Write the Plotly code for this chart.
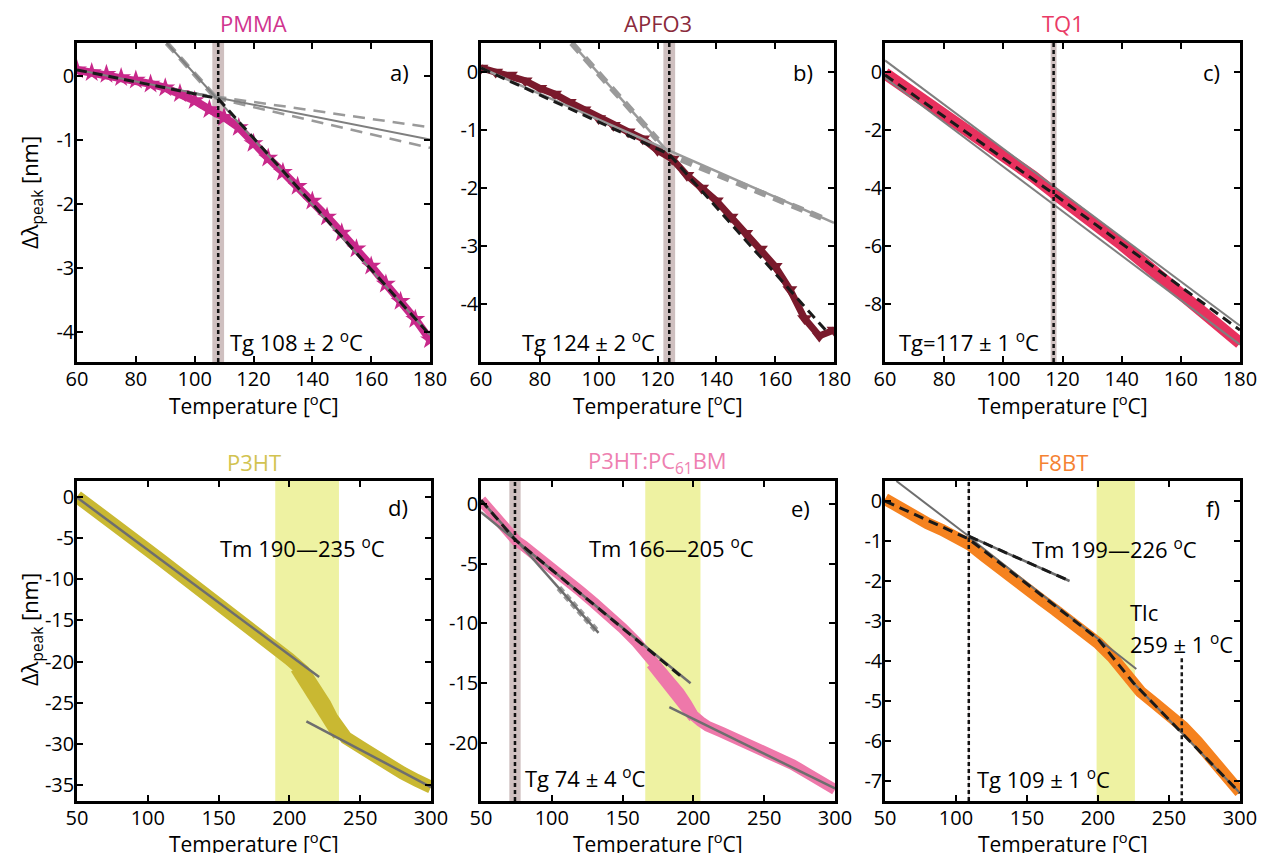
import plotly.graph_objects as go

# ---------------- data ----------------
# a) PMMA
pmma_T = [60, 65, 70, 75, 80, 85, 90, 95, 100, 105, 110, 115, 120, 125, 130, 135, 140, 145, 150, 155, 160, 165, 170, 175, 180]
pmma_d = [0.10, 0.06, 0.03, -0.02, -0.06, -0.12, -0.18, -0.27, -0.38, -0.52, -0.64, -0.80, -1.05, -1.28, -1.50, -1.72, -1.95, -2.20, -2.45, -2.70, -2.97, -3.25, -3.52, -3.80, -4.12]
pmma_fit_T = [60, 108, 180]
pmma_fit_d = [0.10, -0.35, -4.05]
pmma_low_T = [60, 180]
pmma_low_d = [0.10, -0.99]
pmma_ci_T = [100, 180]
pmma_ci_up = [-0.27, -0.80]
pmma_ci_lo = [-0.27, -1.12]
pmma_high_T = [90.5, 180]
pmma_high_d = [0.52, -4.05]
pmma_hci_T = [90.5, 108]
pmma_hci_d = [0.52, -0.38]

# b) APFO3
apfo_T = [60, 65, 70, 75, 80, 85, 90, 95, 100, 105, 110, 115, 120, 125, 130, 135, 140, 145, 150, 155, 160, 165, 170, 175, 180]
apfo_d = [0.07, 0.00, -0.05, -0.15, -0.28, -0.38, -0.52, -0.65, -0.80, -0.92, -1.03, -1.15, -1.35, -1.50, -1.78, -2.00, -2.22, -2.50, -2.78, -3.05, -3.35, -3.75, -4.25, -4.55, -4.45]
apfo_fit_T = [60, 124, 178]
apfo_fit_d = [0.07, -1.42, -4.50]
apfo_low_T = [60, 180]
apfo_low_d = [0.07, -2.60]
apfo_lci_T = [128, 178]
apfo_lci_d = [-1.51, -2.56]
apfo_high_T = [90.8, 124]
apfo_high_d = [0.50, -1.40]
apfo_hci_T = [90.8, 120]
apfo_hci_d = [0.50, -1.17]

# c) TQ1
tq1_T = [60, 70, 80, 90, 100, 110, 120, 130, 140, 150, 160, 170, 180]
tq1_d = [-0.05, -0.75, -1.45, -2.15, -2.85, -3.60, -4.40, -5.15, -5.95, -6.80, -7.60, -8.50, -9.35]
tq1_fit_T = [60, 117, 180]
tq1_fit_d = [-0.10, -4.20, -8.90]
tq1_g1_T = [60, 180]
tq1_g1_d = [0.40, -8.75]
tq1_g2_T = [60, 180]
tq1_g2_d = [-0.20, -9.40]

# d) P3HT
p3ht_T = [50, 60, 70, 80, 90, 100, 110, 120, 130, 140, 150, 160, 170, 180, 190, 200, 210, 215, 220, 225, 230, 235, 240, 250, 260, 270, 280, 290, 300]
p3ht_d = [0.1, -1.3, -2.6, -3.9, -5.1, -6.4, -7.7, -9.0, -10.3, -11.6, -12.9, -14.1, -15.4, -16.8, -18.2, -19.7, -21.2, -22.4, -23.6, -25.2, -26.9, -28.4, -29.3, -30.4, -31.6, -32.6, -33.6, -34.5, -35.3]
p3ht_melt_T = [205, 210, 215, 220, 225, 230, 235]
p3ht_melt_d = [-20.8, -22.2, -23.6, -25.0, -26.6, -28.0, -29.0]
p3ht_g1_T = [50, 221]
p3ht_g1_d = [0.0, -21.9]
p3ht_g2_T = [212, 300]
p3ht_g2_d = [-27.3, -35.3]

# e) P3HT:PC61BM
blend_T = [50, 55, 60, 65, 70, 75, 80, 90, 100, 110, 120, 130, 140, 150, 160, 170, 180, 185, 190, 195, 200, 205, 210, 220, 230, 240, 250, 260, 270, 280, 290, 300]
blend_d = [0.3, -0.4, -1.1, -1.8, -2.5, -3.1, -3.5, -4.4, -5.3, -6.3, -7.3, -8.3, -9.3, -10.4, -11.6, -12.9, -14.3, -15.0, -15.8, -16.7, -17.7, -18.2, -18.6, -19.1, -19.6, -20.1, -20.6, -21.2, -21.8, -22.5, -23.2, -23.9]
blend_melt_T = [170, 180, 185, 190, 195, 200]
blend_melt_d = [-13.4, -14.9, -15.7, -16.5, -17.2, -17.9]
blend_fit_T = [50, 74, 193]
blend_fit_d = [0.3, -3.0, -14.6]
blend_g1_T = [50, 198]
blend_g1_d = [-0.7, -15.0]
blend_steep_T = [50, 133]
blend_steep_d = [0.3, -10.8]
blend_sci_T = [105, 133]
blend_sci_d = [-7.05, -10.8]
blend_g2_T = [183, 300]
blend_g2_d = [-17.0, -23.8]

# f) F8BT
f8bt_T = [50, 60, 70, 80, 90, 100, 110, 120, 130, 140, 150, 160, 170, 180, 190, 200, 210, 215, 220, 225, 230, 240, 250, 260, 270, 280, 290, 300]
f8bt_d = [0.05, -0.18, -0.36, -0.56, -0.72, -0.89, -1.10, -1.38, -1.63, -1.92, -2.18, -2.47, -2.73, -3.00, -3.26, -3.55, -3.90, -4.12, -4.35, -4.56, -4.77, -5.06, -5.33, -5.65, -6.02, -6.43, -6.88, -7.28]
f8bt_fit_T = [50, 109, 200, 225, 300]
f8bt_fit_d = [0.0, -0.95, -3.45, -4.55, -7.30]
f8bt_ga_T = [58, 109]
f8bt_ga_d = [0.50, -0.88]
f8bt_gb_T = [109, 180]
f8bt_gb_d = [-0.88, -2.00]
f8bt_gc_T = [109, 227]
f8bt_gc_d = [-0.90, -4.20]
f8bt_gd_T = [225, 300]
f8bt_gd_d = [-4.55, -7.30]
f8bt_tlc_T = [259, 259]
f8bt_tlc_d = [-3.93, -7.5]

# transition temperatures
tg_lines = {1: 108, 2: 124, 3: 117, 5: 74, 6: 109}
tg_bands = {1: (106, 110), 2: (122, 126), 3: (116, 118), 5: (70, 78), 6: (108.4, 109.6)}
tm_bands = {4: (190, 235), 5: (166, 205), 6: (199, 226)}

titles = ["PMMA", "APFO3", "TQ1", "P3HT", "P3HT:PC<sub>61</sub>BM", "F8BT"]
letters = ["a)", "b)", "c)", "d)", "e)", "f)"]
xt_top = [60, 80, 100, 120, 140, 160, 180]
xt_bot = [50, 100, 150, 200, 250, 300]
yt = {
    1: [0, -1, -2, -3, -4],
    2: [0, -1, -2, -3, -4],
    3: [0, -2, -4, -6, -8],
    4: [0, -5, -10, -15, -20, -25, -30, -35],
    5: [0, -5, -10, -15, -20],
    6: [0, -1, -2, -3, -4, -5, -6, -7],
}

# ---------------- styling / layout ----------------
W, H = 1262, 853
FONT = "Open Sans"
C = {1: "#C8288A", 2: "#7A1A2C", 3: "#E8315E", 4: "#C9B832", 5: "#EE78AA", 6: "#F5821F"}
TITLE_C = {1: "#D0358F", 2: "#8A2A3C", 3: "#EA3A66", 4: "#D2C350", 5: "#EE80B0", 6: "#F58232"}
GRAY = "#7F7F7F"
LGRAY = "#9A9A9A"
BAND = "#CFC0C0"
YEL = "#EEF2A2"

xdom_px = {1: (77, 430), 2: (481, 834), 3: (885, 1240), 4: (77, 431), 5: (481, 835), 6: (885, 1240)}
ydom_px = {1: (43, 362), 2: (43, 362), 3: (43, 362), 4: (481, 801), 5: (481, 801), 6: (481, 801)}
xr = {1: [60, 180], 2: [60, 180], 3: [60, 180], 4: [50, 300], 5: [50, 300], 6: [50, 300]}
yr = {1: [-4.47, 0.52], 2: [-5.0, 0.5], 3: [-10.0, 1.0], 4: [-37.0, 2.0], 5: [-24.85, 1.9], 6: [-7.5, 0.5]}


def px(x):
    return x / W


def py(y):
    return 1 - y / H


fig = go.Figure()


def ax(i):
    return ("x" if i == 1 else f"x{i}"), ("y" if i == 1 else f"y{i}")


def line(i, xs, ys, color, width, dash="solid"):
    xa, ya = ax(i)
    fig.add_trace(go.Scatter(x=xs, y=ys, xaxis=xa, yaxis=ya, mode="lines",
                             line=dict(color=color, width=width, dash=dash),
                             showlegend=False, hoverinfo="skip"))


def data(i, xs, ys, width, symbol=None, size=0):
    xa, ya = ax(i)
    if symbol:
        fig.add_trace(go.Scatter(x=xs, y=ys, xaxis=xa, yaxis=ya, mode="lines+markers",
                                 line=dict(color=C[i], width=width),
                                 marker=dict(symbol=symbol, size=size, color=C[i], line=dict(width=0)),
                                 showlegend=False))
    else:
        fig.add_trace(go.Scatter(x=xs, y=ys, xaxis=xa, yaxis=ya, mode="lines",
                                 line=dict(color=C[i], width=width),
                                 showlegend=False))


BDASH = "10px,6px"
VDASH = "4px,3px"
CIDASH = "12px,8px"
DK = "#1A1A1A"

# a) PMMA
data(1, pmma_T, pmma_d, 8, "star", 15)
line(1, pmma_ci_T, pmma_ci_up, LGRAY, 2.5, CIDASH)
line(1, pmma_ci_T, pmma_ci_lo, LGRAY, 2.5, CIDASH)
line(1, pmma_low_T, pmma_low_d, GRAY, 2)
line(1, pmma_hci_T, pmma_hci_d, LGRAY, 5, CIDASH)
line(1, pmma_high_T, pmma_high_d, GRAY, 2)
line(1, pmma_fit_T, pmma_fit_d, DK, 3, BDASH)

# b) APFO3
data(2, apfo_T, apfo_d, 7, "triangle-down", 13)
line(2, apfo_lci_T, apfo_lci_d, LGRAY, 6, CIDASH)
line(2, apfo_low_T, apfo_low_d, LGRAY, 2.5)
line(2, apfo_hci_T, apfo_hci_d, LGRAY, 6, CIDASH)
line(2, apfo_high_T, apfo_high_d, LGRAY, 2.5)
line(2, apfo_fit_T, apfo_fit_d, DK, 3, BDASH)

# c) TQ1
data(3, tq1_T, tq1_d, 12)
line(3, tq1_g1_T, tq1_g1_d, GRAY, 2)
line(3, tq1_g2_T, tq1_g2_d, GRAY, 2)
line(3, tq1_fit_T, tq1_fit_d, DK, 3, BDASH)

# d) P3HT
data(4, p3ht_T, p3ht_d, 13)
data(4, p3ht_melt_T, p3ht_melt_d, 13)
line(4, p3ht_g1_T, p3ht_g1_d, "#6E6E6E", 2.5)
line(4, p3ht_g2_T, p3ht_g2_d, "#6E6E6E", 2.5)

# e) P3HT:PC61BM
data(5, blend_T, blend_d, 11)
data(5, blend_melt_T, blend_melt_d, 10)
line(5, blend_sci_T, blend_sci_d, LGRAY, 6, "6px,4px")
line(5, blend_steep_T, blend_steep_d, "#6E6E6E", 2.5)
line(5, blend_g1_T, blend_g1_d, "#6E6E6E", 2.5)
line(5, blend_g2_T, blend_g2_d, "#6E6E6E", 2.5)
line(5, blend_fit_T, blend_fit_d, DK, 3, BDASH)

# f) F8BT
data(6, f8bt_T, f8bt_d, 12)
line(6, f8bt_ga_T, f8bt_ga_d, "#6E6E6E", 2)
line(6, f8bt_gb_T, f8bt_gb_d, "#6E6E6E", 2.5)
line(6, f8bt_gc_T, f8bt_gc_d, "#6E6E6E", 2)
line(6, f8bt_gd_T, f8bt_gd_d, "#6E6E6E", 2)
line(6, f8bt_gb_T, f8bt_gb_d, DK, 3, BDASH)
line(6, f8bt_fit_T, f8bt_fit_d, DK, 3, BDASH)
line(6, f8bt_tlc_T, f8bt_tlc_d, DK, 2.5, VDASH)

shapes = []
for i, (a, b) in tg_bands.items():
    xa, ya = ax(i)
    shapes.append(dict(type="rect", xref=xa, yref=f"{ya} domain", x0=a, x1=b, y0=0, y1=1,
                       fillcolor=BAND if i != 6 else "#E2DADA", line=dict(width=0), layer="below"))
for i, (a, b) in tm_bands.items():
    xa, ya = ax(i)
    shapes.append(dict(type="rect", xref=xa, yref=f"{ya} domain", x0=a, x1=b, y0=0, y1=1,
                       fillcolor=YEL, line=dict(width=0), layer="below"))
for i, t in tg_lines.items():
    xa, ya = ax(i)
    shapes.append(dict(type="line", xref=xa, yref=f"{ya} domain", x0=t, x1=t, y0=0, y1=1,
                       line=dict(color="#111111", width=2.5, dash=VDASH), layer="above"))

layout = dict(width=W, height=H, margin=dict(l=0, r=0, t=0, b=0),
              paper_bgcolor="white", plot_bgcolor="white", showlegend=False,
              font=dict(family=FONT, color="black"), shapes=shapes)

for i in range(1, 7):
    xa, ya = ax(i)
    xk = "xaxis" if i == 1 else f"xaxis{i}"
    yk = "yaxis" if i == 1 else f"yaxis{i}"
    xt = xt_top if i <= 3 else xt_bot
    common = dict(showline=True, linecolor="black", linewidth=2.5, mirror="ticks",
                  ticks="inside", ticklen=6, tickwidth=2, tickcolor="black",
                  showgrid=False, zeroline=False, automargin=False,
                  tickfont=dict(family=FONT, size=20, color="black"))
    layout[xk] = dict(domain=[px(xdom_px[i][0]), px(xdom_px[i][1])], range=xr[i], anchor=ya,
                      tickvals=xt, ticktext=[str(v) for v in xt], ticklabelstandoff=-3, **common)
    layout[yk] = dict(domain=[py(ydom_px[i][1]), py(ydom_px[i][0])], range=yr[i], anchor=xa,
                      tickvals=yt[i], ticktext=[str(v) for v in yt[i]], ticklabelstandoff=-4, **common)

fig.update_layout(**layout)

ann = []
TF = dict(family=FONT, size=22, color="black")
for i in range(1, 7):
    cx = (xdom_px[i][0] + xdom_px[i][1]) / 2
    ty = 23 if i <= 3 else 462
    ann.append(dict(text=titles[i - 1], xref="paper", yref="paper", x=px(cx), y=py(ty),
                    xanchor="center", yanchor="middle", showarrow=False,
                    font=dict(family=FONT, size=22, color=TITLE_C[i])))
    xty = 405 if i <= 3 else 842
    ann.append(dict(text="Temperature [<sup>o</sup>C]", xref="paper", yref="paper", x=px(cx), y=py(xty),
                    xanchor="center", yanchor="middle", showarrow=False,
                    font=dict(family=FONT, size=21, color="black")))
for yy in (193, 630):
    ann.append(dict(text="Δλ<sub>peak</sub> [nm]", xref="paper", yref="paper", x=px(31), y=py(yy),
                    xanchor="center", yanchor="middle", textangle=-90, showarrow=False, font=TF))

letter_pos = {1: (173.5, 0.06), 2: (173.5, 0.0), 3: (174, 0.0), 4: (285, -1.2), 5: (284, -0.33), 6: (287, -0.18)}
for i in range(1, 7):
    xa, ya = ax(i)
    ann.append(dict(text=letters[i - 1], xref=xa, yref=ya, x=letter_pos[i][0], y=letter_pos[i][1],
                    xanchor="right", yanchor="middle", showarrow=False, font=TF))

texts = [
    (1, "Tg 108 ± 2 <sup>o</sup>C", 111.2, -4.15),
    (2, "Tg 124 ± 2 <sup>o</sup>C", 73.3, -4.65),
    (3, "Tg=117 ± 1 <sup>o</sup>C", 64, -9.3),
    (4, "Tm 190—235 <sup>o</sup>C", 149.7, -6.1),
    (5, "Tm 166—205 <sup>o</sup>C", 124.6, -3.7),
    (5, "Tg 74 ± 4 <sup>o</sup>C", 79.9, -22.9),
    (6, "Tm 199—226 <sup>o</sup>C", 152, -1.18),
    (6, "Tlc", 221, -2.77),
    (6, "259 ± 1 <sup>o</sup>C", 221, -3.56),
    (6, "Tg 109 ± 1 <sup>o</sup>C", 113.4, -6.93),
]
for i, t, x, y in texts:
    xa, ya = ax(i)
    ann.append(dict(text=t, xref=xa, yref=ya, x=x, y=y, xanchor="left", yanchor="middle",
                    showarrow=False, font=TF))

fig.update_layout(annotations=ann)
fig.write_html("out.html", config={"displayModeBar": False},
               post_script="document.body.style.margin='0px';document.body.style.overflow='hidden';")
